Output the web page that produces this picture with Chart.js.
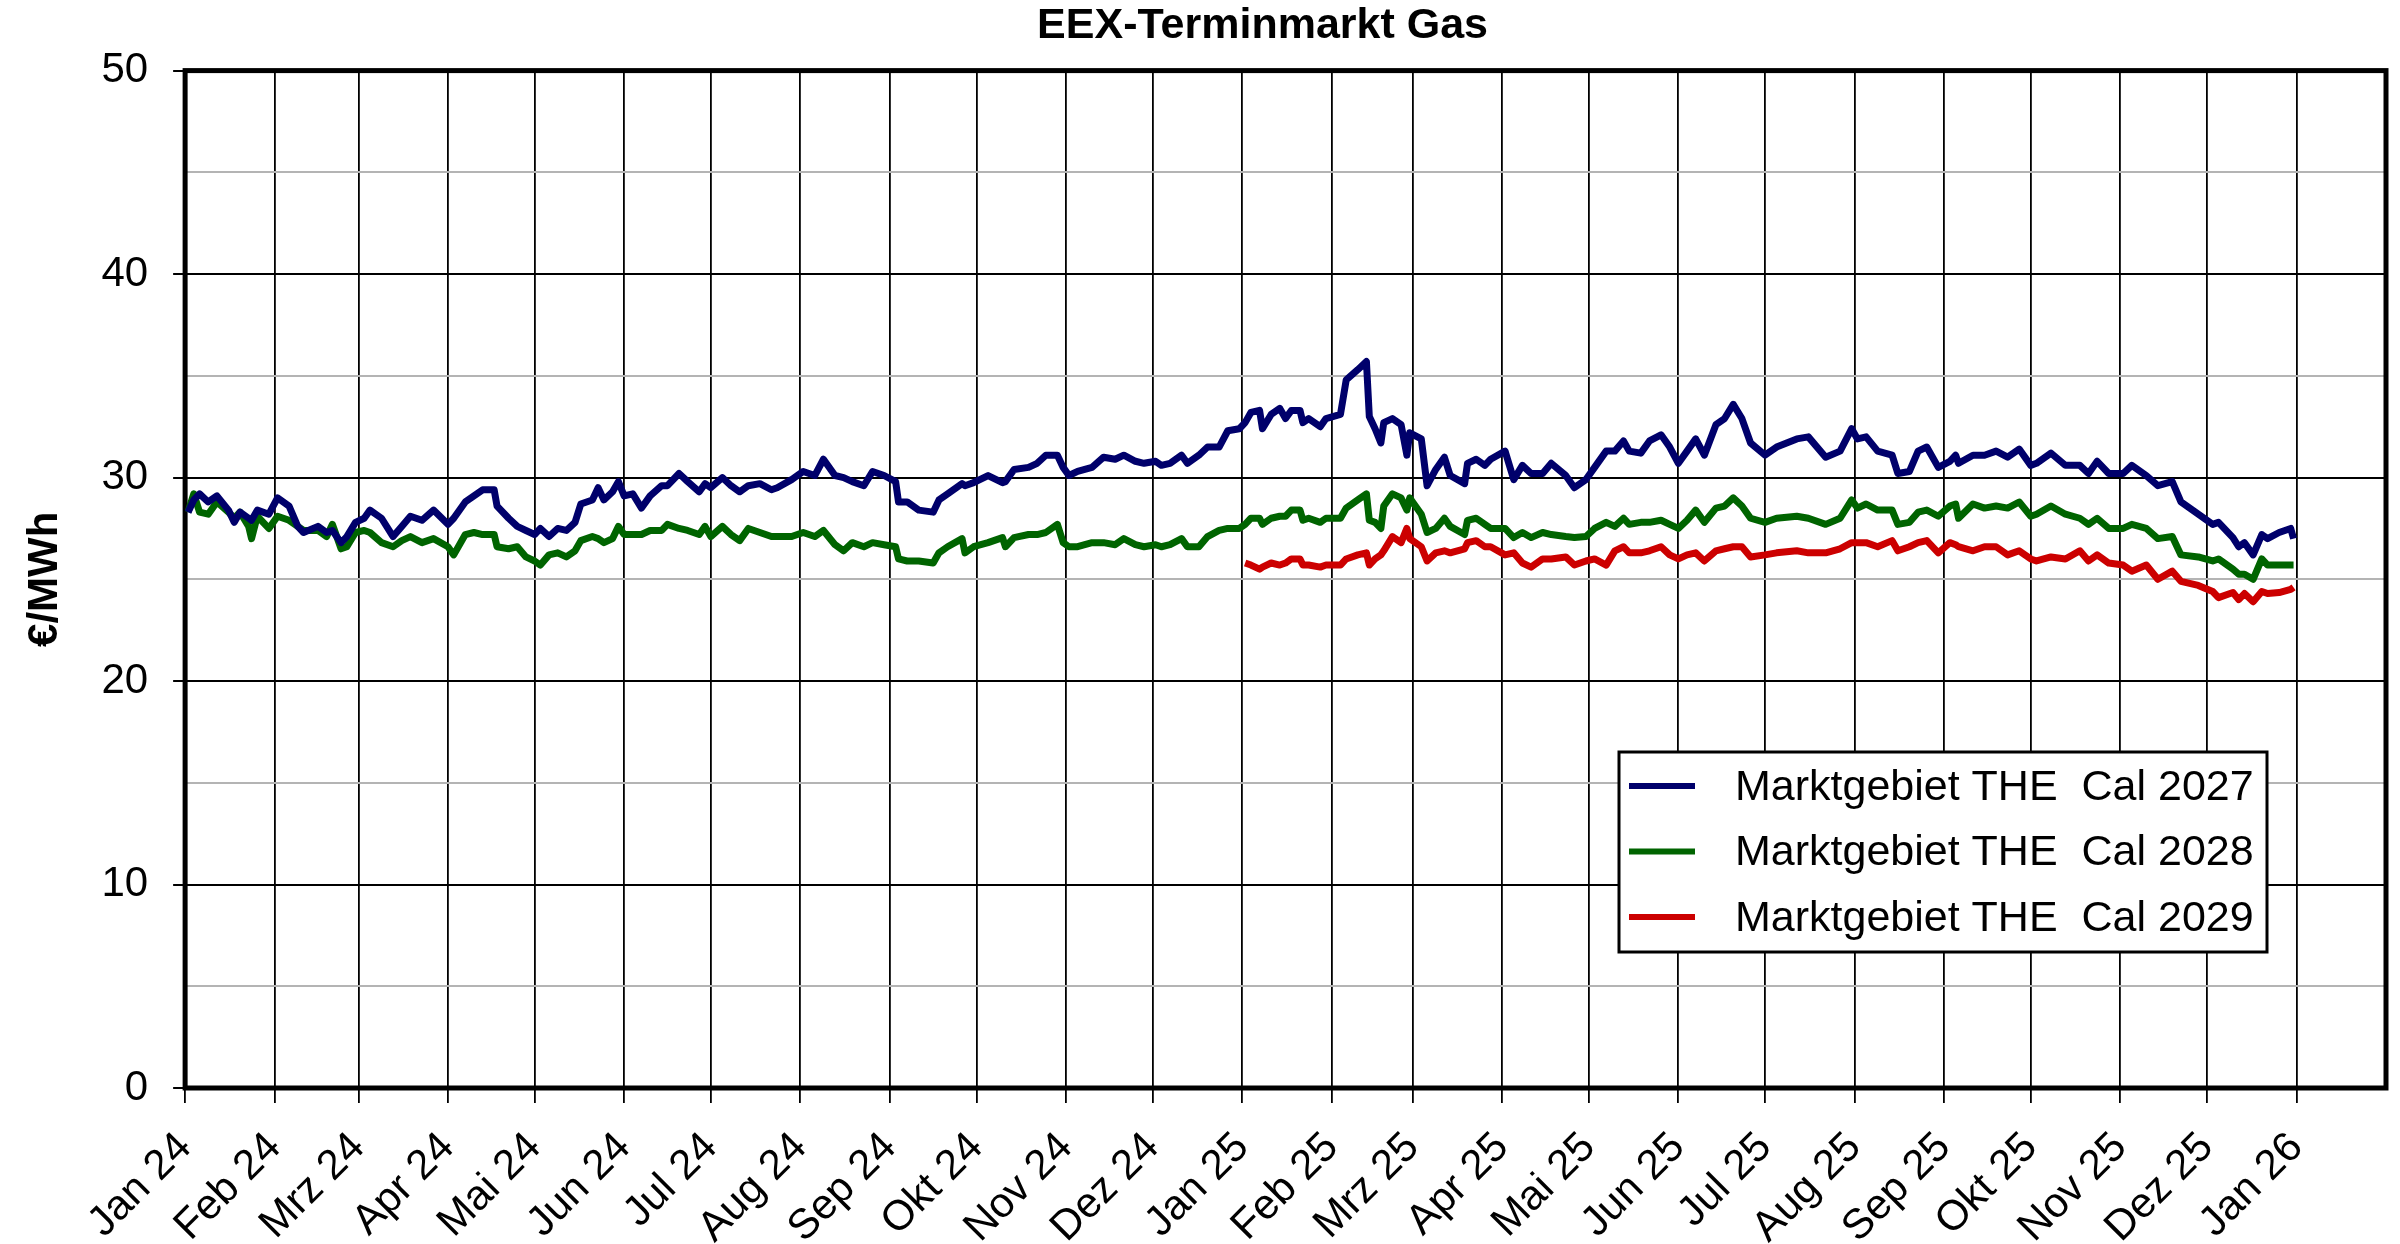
<!DOCTYPE html>
<html>
<head>
<meta charset="utf-8">
<title>EEX-Terminmarkt Gas</title>
<script src="https://cdn.jsdelivr.net/npm/chart.js@4.4.1/dist/chart.umd.min.js"></script>
<style>
  html, body { margin: 0; padding: 0; background: #fff; }
  #wrap { width: 2400px; height: 1244px; }
</style>
</head>
<body>
<div id="wrap"><canvas id="myChart"></canvas></div>
<script>
// Handelstage, gezaehlt in Tagen ab dem 1. Januar 2024
const days = [
  1, 3, 5, 8, 11, 15, 17, 19, 22, 23, 25, 29, 32, 36, 39, 41, 46, 49, 51, 54,
  56, 59, 62, 64, 68, 72, 75, 78, 82, 86, 91, 93, 97, 100, 103, 107, 108, 112, 115, 118,
  121, 123, 126, 129, 132, 135, 137, 141, 143, 145, 148, 150, 152, 155, 158, 161, 165, 167, 171, 174,
  178, 180, 182, 186, 189, 192, 195, 199, 203, 205, 210, 214, 218, 221, 225, 228, 231, 235, 238, 242,
  246, 247, 250, 254, 259, 261, 264, 269, 270, 273, 278, 283, 284, 287, 292, 295, 298, 302, 304, 306,
  309, 314, 318, 322, 325, 329, 332, 336, 338, 341, 345, 347, 351, 354, 358, 361, 365,
  // 2025
  367, 369, 372, 373, 376, 379, 381, 383, 386, 387, 389, 393, 395, 400, 402, 406, 409, 410, 412, 414,
  415, 418, 421, 423, 424, 428, 430, 433, 436, 438, 443, 444, 447, 450, 452, 457, 460, 463, 466, 470,
  473, 478, 481, 485, 488, 492, 495, 498, 500, 504, 507, 511, 514, 517, 520, 523, 526, 530, 533, 536,
  539, 542, 547, 551, 558, 562, 568, 573, 577, 579, 582, 586, 591, 593, 597, 600, 603, 607, 611, 613,
  614, 619, 623, 627, 631, 635, 639, 641, 646, 651, 656, 659, 662, 666, 671, 674, 679, 683, 688, 691,
  697, 702, 704, 709, 711, 713, 716, 719, 721, 725, 729, 730
];

// Marktgebiet THE Cal 2027 (EUR/MWh)
const cal2027 = [
  28.3, 28.9, 29.2, 28.8, 29.1, 28.4, 27.8, 28.3, 28.0, 27.9, 28.4, 28.2, 29.0, 28.6, 27.6, 27.3, 27.6, 27.3, 27.4, 26.8,
  27.1, 27.8, 28.0, 28.4, 28.0, 27.1, 27.6, 28.1, 27.9, 28.4, 27.7, 28.0, 28.8, 29.1, 29.4, 29.4, 28.6, 28.0, 27.6, 27.4,
  27.2, 27.5, 27.1, 27.5, 27.4, 27.8, 28.7, 28.9, 29.5, 28.9, 29.3, 29.8, 29.1, 29.2, 28.5, 29.1, 29.6, 29.6, 30.2, 29.8,
  29.3, 29.7, 29.5, 30.0, 29.6, 29.3, 29.6, 29.7, 29.4, 29.5, 29.9, 30.3, 30.1, 30.9, 30.1, 30.0, 29.8, 29.6, 30.3, 30.1,
  29.8, 28.8, 28.8, 28.4, 28.3, 28.9, 29.2, 29.7, 29.6, 29.75, 30.1, 29.75, 29.8, 30.4, 30.5, 30.7, 31.1, 31.1, 30.5, 30.1,
  30.3, 30.5, 31.0, 30.9, 31.1, 30.8, 30.7, 30.8, 30.6, 30.7, 31.1, 30.7, 31.1, 31.5, 31.5, 32.3, 32.4,
  32.7, 33.2, 33.3, 32.4, 33.1, 33.4, 32.9, 33.3, 33.3, 32.7, 32.9, 32.5, 32.9, 33.1, 34.8, 35.3, 35.7, 33.0, 32.4, 31.7,
  32.7, 32.9, 32.6, 31.1, 32.2, 31.9, 29.6, 30.4, 31.0, 30.1, 29.7, 30.7, 30.9, 30.6, 30.9, 31.3, 29.9, 30.6, 30.2, 30.2,
  30.7, 30.1, 29.5, 29.9, 30.5, 31.3, 31.3, 31.8, 31.3, 31.2, 31.8, 32.1, 31.5, 30.7, 31.3, 31.9, 31.1, 32.6, 32.9, 33.6,
  32.9, 31.7, 31.1, 31.5, 31.9, 32.0, 31.0, 31.3, 32.4, 31.9, 32.0, 31.3, 31.1, 30.2, 30.3, 31.3, 31.5, 30.5, 30.8, 31.1,
  30.7, 31.1, 31.1, 31.3, 31.0, 31.4, 30.6, 30.7, 31.2, 30.6, 30.6, 30.2, 30.8, 30.2, 30.2, 30.6, 30.1, 29.6, 29.8, 28.8,
  28.2, 27.7, 27.8, 27.05, 26.6, 26.8, 26.2, 27.2, 27.0, 27.3, 27.5, 27.0
];

// Marktgebiet THE Cal 2028 (EUR/MWh)
const cal2028 = [
  28.3, 29.2, 28.3, 28.2, 28.8, 28.3, 28.0, 28.3, 27.6, 27.0, 28.1, 27.5, 28.1, 27.9, 27.6, 27.4, 27.4, 27.1, 27.7, 26.5,
  26.6, 27.3, 27.4, 27.3, 26.8, 26.6, 26.9, 27.1, 26.8, 27.0, 26.6, 26.2, 27.2, 27.3, 27.2, 27.2, 26.6, 26.5, 26.6, 26.1,
  25.9, 25.7, 26.2, 26.3, 26.1, 26.4, 26.9, 27.1, 27.0, 26.8, 27.0, 27.6, 27.2, 27.2, 27.2, 27.4, 27.4, 27.7, 27.5, 27.4,
  27.2, 27.6, 27.1, 27.6, 27.2, 26.9, 27.5, 27.3, 27.1, 27.1, 27.1, 27.3, 27.1, 27.4, 26.7, 26.4, 26.8, 26.6, 26.8, 26.7,
  26.6, 26.0, 25.9, 25.9, 25.8, 26.3, 26.6, 27.0, 26.3, 26.6, 26.8, 27.05, 26.6, 27.05, 27.2, 27.2, 27.3, 27.7, 26.8, 26.6,
  26.6, 26.8, 26.8, 26.7, 27.0, 26.7, 26.6, 26.7, 26.6, 26.7, 27.0, 26.6, 26.6, 27.1, 27.4, 27.5, 27.5,
  27.7, 28.0, 28.0, 27.7, 28.0, 28.1, 28.1, 28.4, 28.4, 27.9, 28.0, 27.8, 28.0, 28.0, 28.5, 28.9, 29.2, 27.9, 27.8, 27.5,
  28.6, 29.2, 29.0, 28.4, 29.0, 28.2, 27.3, 27.5, 28.0, 27.6, 27.2, 27.9, 28.0, 27.7, 27.5, 27.5, 27.05, 27.3, 27.05, 27.3,
  27.2, 27.1, 27.05, 27.1, 27.5, 27.8, 27.6, 28.0, 27.7, 27.8, 27.8, 27.9, 27.7, 27.5, 27.9, 28.4, 27.8, 28.5, 28.6, 29.0,
  28.6, 28.0, 27.8, 28.0, 28.1, 28.0, 27.7, 28.0, 28.9, 28.5, 28.7, 28.4, 28.4, 27.7, 27.8, 28.3, 28.4, 28.1, 28.6, 28.7,
  28.0, 28.7, 28.5, 28.6, 28.5, 28.8, 28.1, 28.2, 28.6, 28.2, 28.0, 27.7, 28.0, 27.5, 27.5, 27.7, 27.5, 27.0, 27.1, 26.2,
  26.1, 25.9, 26.0, 25.5, 25.25, 25.25, 25.0, 26.0, 25.7, 25.7, 25.7, 25.7
];

// Marktgebiet THE Cal 2029 (EUR/MWh), notiert ab Januar 2025
const cal2029 = [
  25.8, 25.7, 25.5, 25.6, 25.8, 25.7, 25.8, 26.0, 26.0, 25.7, 25.7, 25.6, 25.7, 25.7, 26.0, 26.2, 26.3, 25.7, 26.0, 26.2,
  26.4, 27.1, 26.8, 27.5, 27.0, 26.6, 25.9, 26.3, 26.4, 26.3, 26.5, 26.8, 26.9, 26.6, 26.6, 26.2, 26.3, 25.8, 25.6, 26.0,
  26.0, 26.1, 25.7, 25.9, 26.0, 25.7, 26.4, 26.6, 26.3, 26.3, 26.4, 26.6, 26.2, 26.0, 26.2, 26.3, 25.9, 26.4, 26.5, 26.6,
  26.6, 26.1, 26.2, 26.3, 26.4, 26.3, 26.3, 26.5, 26.8, 26.8, 26.8, 26.6, 26.9, 26.4, 26.6, 26.8, 26.9, 26.3, 26.8, 26.7,
  26.6, 26.4, 26.6, 26.6, 26.2, 26.4, 26.0, 25.9, 26.1, 26.0, 26.4, 25.9, 26.2, 25.8, 25.7, 25.4, 25.7, 25.0, 25.4, 24.9,
  24.7, 24.4, 24.1, 24.35, 24.0, 24.3, 23.9, 24.4, 24.3, 24.35, 24.5, 24.6
];

const seriesNames = ["Marktgebiet THE  Cal 2027", "Marktgebiet THE  Cal 2028", "Marktgebiet THE  Cal 2029"];

const monthLabels = [
  "Jan 24", "Feb 24", "Mrz 24", "Apr 24", "Mai 24", "Jun 24", "Jul 24", "Aug 24", "Sep 24", "Okt 24", "Nov 24", "Dez 24",
  "Jan 25", "Feb 25", "Mrz 25", "Apr 25", "Mai 25", "Jun 25", "Jul 25", "Aug 25", "Sep 25", "Okt 25", "Nov 25", "Dez 25",
  "Jan 26"
];

const DAY = 86400000;
const t0 = Date.UTC(2024, 0, 1);
const monthStarts = monthLabels.map((_, i) => (Date.UTC(2024, i, 1) - t0) / DAY);
const xMax = (Date.UTC(2026, 1, 1) - t0) / DAY;

const toPoints = (vals) => {
  const off = days.length - vals.length;
  return vals.map((v, i) => ({ x: days[i + off], y: v }));
};

const FONT = '"Liberation Sans", Arial, sans-serif';
Chart.defaults.font.family = FONT;
Chart.defaults.color = "#000";

// Titel etwas links der Mitte der Zeichenflaeche, wie im Original
const titleShift = {
  id: "titleShift",
  afterLayout(chart) {
    if (chart.titleBlock) chart.titleBlock.left -= 46;
  },
};

// Rahmen um die Zeichenflaeche
const frame = {
  id: "frame",
  beforeDatasetsDraw(chart) {
    const { ctx, chartArea: a } = chart;
    ctx.save();
    ctx.strokeStyle = "#000";
    ctx.lineWidth = 5;
    ctx.strokeRect(a.left, a.top, a.right - a.left, a.bottom - a.top);
    ctx.restore();
  },
};

// Legende im Diagramm unten rechts
const legendBox = {
  id: "legendBox",
  afterDraw(chart) {
    const { ctx, chartArea: a } = chart;
    const w = 648, h = 200;
    const x = a.right - 119 - w;
    const y = a.bottom - 136 - h;
    ctx.save();
    ctx.fillStyle = "#fff";
    ctx.fillRect(x, y, w, h);
    ctx.strokeStyle = "#000";
    ctx.lineWidth = 3;
    ctx.strokeRect(x, y, w, h);
    ctx.font = "43px " + FONT;
    ctx.textBaseline = "middle";
    chart.data.datasets.forEach((ds, i) => {
      const cy = y + 34 + i * 65.5;
      ctx.strokeStyle = ds.borderColor;
      ctx.lineWidth = 6;
      ctx.beginPath();
      ctx.moveTo(x + 10, cy);
      ctx.lineTo(x + 76, cy);
      ctx.stroke();
      ctx.fillStyle = "#000";
      ctx.fillText(ds.label, x + 116, cy + 2);
    });
    ctx.restore();
  },
};

const ctx = document.getElementById("myChart");

const myChart = new Chart(ctx, {
  type: "line",
  data: {
    datasets: [
      { label: seriesNames[0], data: toPoints(cal2027), borderColor: "#00006b" },
      { label: seriesNames[1], data: toPoints(cal2028), borderColor: "#006400" },
      { label: seriesNames[2], data: toPoints(cal2029), borderColor: "#cc0000" },
    ],
  },
  options: {
    responsive: true,
    maintainAspectRatio: false,
    devicePixelRatio: 1,
    animation: false,
    elements: {
      point: { radius: 0 },
      line: { borderWidth: 7, tension: 0, borderJoinStyle: "round" },
    },
    layout: { padding: { left: 0, right: 14, top: 0, bottom: 0 } },
    plugins: {
      legend: { display: false },
      tooltip: { enabled: false },
      title: {
        display: true,
        fullSize: false,
        text: "EEX-Terminmarkt Gas",
        font: { size: 43, weight: "bold" },
        color: "#000",
        padding: { top: 0, bottom: 19 },
      },
    },
    scales: {
      x: {
        type: "linear",
        min: 0,
        max: xMax,
        afterBuildTicks: (axis) => {
          axis.ticks = monthStarts.map((v) => ({ value: v }));
        },
        afterFit: (axis) => {
          axis.height = 156;
        },
        ticks: {
          autoSkip: false,
          maxRotation: 45,
          minRotation: 45,
          padding: 20,
          font: { size: 42 },
          callback: (value) => monthLabels[monthStarts.indexOf(value)],
        },
        grid: { color: "#000", lineWidth: 1.8, tickLength: 15 },
        border: { display: false },
      },
      y: {
        min: 0,
        max: 50,
        ticks: {
          stepSize: 5,
          padding: 25,
          font: { size: 42 },
          callback: (value) => (value % 10 === 0 ? value : ""),
        },
        grid: {
          color: (c) => (c.tick.value % 10 === 0 ? "#000" : "#b4b4b4"),
          tickColor: (c) => (c.tick.value % 10 === 0 ? "#000" : "rgba(0,0,0,0)"),
          lineWidth: 2,
          tickLength: 12,
        },
        border: { display: false },
        title: {
          display: true,
          text: "€/MWh",
          font: { size: 42, weight: "bold" },
          padding: { top: 20, bottom: 6 },
        },
      },
    },
  },
  plugins: [titleShift, frame, legendBox],
});
</script>
</body>
</html>
